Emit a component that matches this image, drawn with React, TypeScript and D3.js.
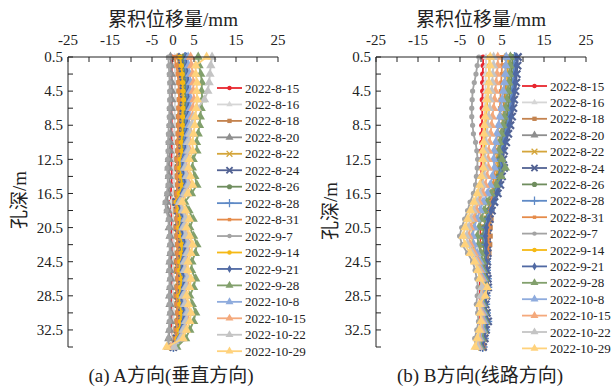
import React from 'react';
import * as d3 from 'd3';

const depths = [0.5,1.5,2.5,3.5,4.5,5.5,6.5,7.5,8.5,9.5,10.5,11.5,12.5,13.5,14.5,15.5,16.5,17.5,18.5,19.5,20.5,21.5,22.5,23.5,24.5,25.5,26.5,27.5,28.5,29.5,30.5,31.5,32.5,33.5,34.5];
const dates = ['2022-8-15','2022-8-16','2022-8-18','2022-8-20','2022-8-22','2022-8-24','2022-8-26','2022-8-28','2022-8-31','2022-9-7','2022-9-14','2022-9-21','2022-9-28','2022-10-8','2022-10-15','2022-10-22','2022-10-29'];
const xTicks = [-25,-20,-15,-10,-5,0,5,10,15,20,25];
const xTickLabels = [-25,-15,-5,0,5,15,25];
const yTicks = [0.5,2.5,4.5,6.5,8.5,10.5,12.5,14.5,16.5,18.5,20.5,22.5,24.5,26.5,28.5,30.5,32.5,34.5];
const yTickLabels = [0.5,4.5,8.5,12.5,16.5,20.5,24.5,28.5,32.5];

// Panel (a): A direction
const a0815 = [-0.2,-0.3,-0.3,-0.4,-0.3,-0.3,-0.4,-0.3,-0.3,-0.4,-0.3,-0.3,-0.4,-0.3,-0.3,-0.4,-0.5,-0.5,-0.4,-0.3,-0.3,-0.4,-0.3,-0.3,-0.4,-0.3,-0.3,-0.4,-0.3,-0.3,-0.4,-0.3,-0.3,-0.2,-0.1];
const a0816 = [0.4,0.4,0.5,0.5,0.5,0.5,0.4,0.4,0.4,0.3,0.3,0.3,0.2,0.1,0.2,0.3,0.0,-0.4,-0.2,0.1,0.0,0.1,0.2,0.2,0.0,0.0,0.2,0.1,-0.1,0.0,0.2,0.1,-0.1,-0.3,-0.4];
const a0818 = [1.2,1.3,1.4,1.4,1.4,1.5,1.4,1.3,1.3,1.2,1.1,1.1,0.9,0.9,1.0,1.1,0.8,0.4,0.7,0.9,0.7,0.9,1.1,1.0,0.8,0.8,1.1,0.9,0.7,0.9,1.1,0.9,0.7,0.5,-0.1];
const a0820 = [-0.6,-0.5,-0.4,-0.3,-0.3,-0.3,-0.4,-0.4,-0.5,-0.6,-0.7,-0.7,-0.9,-1.0,-0.9,-0.8,-1.1,-1.5,-1.2,-0.8,-0.9,-0.7,-0.5,-0.5,-0.7,-0.7,-0.5,-0.6,-0.8,-0.7,-0.5,-0.6,-0.8,-1.0,-1.1];
const a0822 = [1.7,1.8,1.9,2.0,2.0,2.1,2.0,1.9,1.8,1.7,1.6,1.6,1.3,1.2,1.4,1.6,1.1,0.6,0.9,1.3,1.0,1.3,1.6,1.5,1.2,1.1,1.5,1.3,1.0,1.2,1.5,1.3,1.0,0.7,-0.1];
const a0824 = [2.1,2.2,2.3,2.5,2.4,2.5,2.4,2.3,2.2,2.1,1.9,2.0,1.6,1.5,1.8,2.0,1.5,0.8,1.2,1.6,1.3,1.7,2.0,1.8,1.5,1.5,1.9,1.7,1.3,1.5,1.9,1.7,1.3,0.9,0.1];
const a0826 = [2.5,2.6,2.8,2.9,2.9,3.0,2.8,2.7,2.6,2.5,2.2,2.3,1.9,1.8,2.0,2.3,1.7,0.9,1.4,1.9,1.5,1.9,2.3,2.1,1.7,1.7,2.1,1.9,1.5,1.8,2.1,1.9,1.5,1.0,-0.2];
const a0828 = [2.9,3.0,3.2,3.4,3.3,3.5,3.3,3.2,3.1,2.9,2.7,2.7,2.2,2.1,2.5,2.7,2.0,1.1,1.7,2.2,1.8,2.3,2.7,2.5,2.1,2.0,2.6,2.3,1.8,2.1,2.6,2.3,1.8,1.3,0.1];
const a0831 = [0.3,0.8,1.1,1.3,1.4,1.4,1.3,1.3,1.3,1.2,1.1,1.1,1.0,0.9,1.0,1.1,0.9,0.6,0.8,1.0,0.8,1.0,1.1,1.1,0.9,0.9,1.1,1.0,0.8,0.9,1.1,1.0,0.8,0.6,0.2];
const a0907 = [-1.1,-1.0,-0.9,-0.8,-0.8,-0.8,-0.9,-0.9,-1.0,-1.1,-1.2,-1.2,-1.3,-1.4,-1.3,-1.2,-1.5,-1.9,-1.6,-1.1,-1.0,-0.9,-0.8,-0.8,-1.0,-1.0,-0.8,-0.9,-1.0,-0.9,-0.8,-0.9,-1.0,-1.1,-1.2];
const a0914 = [1.7,2.0,2.2,2.3,2.4,2.5,2.4,2.3,2.3,2.2,2.0,2.1,1.7,1.6,1.9,2.1,1.5,0.8,1.3,1.7,1.4,1.8,2.1,2.0,1.6,1.5,2.0,1.8,1.4,1.6,2.0,1.8,1.4,1.0,0.0];
const a0921 = [3.2,3.3,3.6,3.7,3.7,3.8,3.6,3.5,3.4,3.2,3.0,3.0,2.5,2.4,2.7,3.0,2.2,1.3,1.9,2.5,2.0,2.5,3.0,2.8,2.3,2.2,2.8,2.5,2.0,2.4,2.8,2.5,2.0,1.4,0.1];
const a0928 = [6.0,6.2,6.6,6.9,6.8,7.0,6.7,6.5,6.3,6.0,5.6,5.7,4.8,4.6,5.2,5.7,4.4,2.8,3.8,4.8,4.0,4.9,5.7,5.3,4.5,4.4,5.4,4.9,4.0,4.6,5.4,4.9,4.0,3.0,0.9];
const a1008 = [3.6,3.7,4.0,4.2,4.1,4.3,4.1,3.9,3.8,3.6,3.3,3.4,2.8,2.7,3.1,3.4,2.6,1.5,2.2,2.8,2.3,2.9,3.4,3.2,2.6,2.6,3.2,2.9,2.3,2.7,3.2,2.9,2.3,1.6,0.3];
const a1015 = [4.2,4.4,4.7,4.9,4.8,5.0,4.7,4.6,4.4,4.2,3.9,4.0,3.3,3.2,3.6,4.0,3.0,1.8,2.6,3.3,2.7,3.4,4.0,3.7,3.1,3.0,3.8,3.4,2.7,3.2,3.8,3.4,2.7,1.9,-0.5];
const a1022 = [9.3,9.0,8.8,8.6,8.3,7.5,5.8,5.0,4.4,4.0,3.6,3.7,3.1,2.9,3.3,3.7,2.8,1.7,2.4,3.1,2.5,3.1,3.7,3.4,2.8,2.8,3.5,3.1,2.5,2.9,3.5,3.1,2.5,1.8,0.3];
const a1029 = [8.0,5.4,5.4,5.7,5.6,5.8,5.5,5.3,5.2,4.9,4.6,4.7,3.9,3.7,4.2,4.7,3.5,2.2,3.0,3.9,3.2,4.0,4.7,4.3,3.6,3.5,4.3,4.0,3.2,3.7,4.3,4.0,3.2,2.4,-1.5];

// Panel (b): B direction
const b0815 = [0.5,0.5,0.4,0.4,0.4,0.3,0.3,0.3,0.2,0.2,0.2,0.1,0.1,0.1,0.0,0.0,-0.1,-0.1,-0.2,-0.2,-0.2,-0.2,-0.2,-0.2,-0.3,-0.3,-0.3,-0.2,-0.3,-0.3,-0.3,-0.2,-0.3,-0.3,-0.2];
const b0816 = [1.2,1.2,1.1,1.1,1.1,1.0,0.9,0.9,0.8,0.7,0.7,0.6,0.6,0.6,0.5,0.4,0.2,0.0,-0.2,-0.4,-0.5,-0.6,-0.5,-0.3,-0.1,0.0,0.1,0.2,0.1,0.0,0.1,0.2,0.0,-0.1,-0.1];
const b0818 = [6.0,5.9,5.8,5.8,5.7,5.5,5.4,5.3,5.0,4.7,4.3,4.0,3.8,4.0,3.7,3.5,3.3,2.8,2.6,2.4,2.2,2.2,2.1,1.9,1.5,1.3,1.3,1.3,1.0,1.0,1.1,1.3,1.0,0.9,0.7];
const b0820 = [7.0,6.9,6.8,6.6,6.5,6.2,6.0,5.8,5.5,5.1,4.7,4.2,4.1,4.3,3.9,3.5,3.0,2.2,1.8,1.3,0.9,0.6,0.7,1.0,1.0,1.0,1.2,1.3,1.0,0.8,1.1,1.3,0.9,0.6,0.3];
const b0822 = [6.4,6.5,6.2,6.3,5.9,5.9,5.5,5.5,5.0,4.9,4.3,4.1,3.7,4.1,3.5,3.4,2.8,2.3,1.7,1.4,0.9,0.8,0.7,1.1,0.9,1.1,1.0,1.3,0.8,0.9,0.9,1.3,0.8,0.7,0.2];
const b0824 = [8.8,8.7,8.5,8.4,8.2,7.9,7.7,7.4,7.0,6.5,6.0,5.5,5.3,5.5,5.0,4.6,4.0,3.2,2.6,2.1,1.7,1.4,1.5,1.6,1.5,1.4,1.6,1.7,1.3,1.1,1.4,1.7,1.2,0.9,0.5];
const b0826 = [7.5,7.4,7.3,7.1,6.9,6.7,6.4,6.2,5.8,5.4,4.9,4.5,4.3,4.6,4.1,3.6,3.1,2.3,1.7,1.2,0.7,0.4,0.6,0.8,1.0,1.0,1.2,1.4,1.0,0.9,1.1,1.4,0.9,0.6,0.3];
const b0828 = [8.0,7.9,7.8,7.6,7.4,7.1,6.9,6.6,6.3,5.8,5.3,4.9,4.7,4.9,4.4,4.0,3.5,2.6,2.1,1.5,1.1,0.8,0.9,1.1,1.2,1.2,1.4,1.5,1.1,1.0,1.2,1.5,1.0,0.7,0.4];
const b0831 = [5.0,5.0,4.9,4.8,4.7,4.6,4.5,4.4,4.2,3.9,3.6,3.3,3.2,3.4,3.1,2.9,2.7,2.4,2.2,2.0,1.9,1.8,1.8,1.6,1.3,1.1,1.1,1.1,0.9,0.8,0.9,1.1,0.9,0.8,0.6];
const b0907 = [-0.5,-0.9,-1.2,-1.6,-2.0,-2.1,-2.2,-2.2,-2.0,-1.8,-1.3,-1.0,-0.8,-0.9,-1.1,-1.3,-1.8,-2.6,-3.2,-3.9,-4.6,-5.1,-4.5,-3.2,-2.0,-1.4,-1.0,-0.7,-0.9,-1.1,-0.8,-0.6,-1.0,-1.5,-1.3];
const b0914 = [2.0,2.0,1.9,1.8,1.7,1.5,1.4,1.2,1.1,1.0,0.9,0.7,0.7,0.8,0.5,0.2,-0.1,-0.7,-1.1,-1.5,-1.9,-2.2,-1.9,-1.3,-0.7,-0.3,0.0,0.1,0.0,-0.1,0.0,0.1,-0.1,-0.4,-0.5];
const b0921 = [8.5,8.4,8.2,8.1,7.9,7.6,7.4,7.1,6.7,6.2,5.7,5.2,5.0,5.3,4.8,4.3,3.8,2.9,2.4,1.8,1.3,1.1,1.2,1.3,1.3,1.3,1.5,1.6,1.2,1.1,1.3,1.6,1.1,0.8,0.4];
const b0928 = [7.0,6.9,6.8,6.6,6.4,6.1,5.8,5.5,5.2,4.8,4.4,4.3,5.0,5.8,4.8,3.6,2.4,1.4,0.7,0.1,-0.5,-0.9,-0.6,0.0,0.4,0.6,1.0,1.1,0.8,0.6,0.9,1.1,0.7,0.2,-0.1];
const b1008 = [6.0,5.9,5.8,5.6,5.3,5.0,4.8,4.5,4.2,3.8,3.5,3.1,3.0,3.2,2.7,2.2,1.5,0.5,-0.2,-1.0,-1.6,-2.0,-1.7,-0.9,-0.2,0.2,0.6,0.8,0.5,0.3,0.6,0.8,0.4,-0.2,-0.4];
const b1015 = [4.0,4.0,3.8,3.6,3.4,3.2,3.0,2.7,2.5,2.3,2.0,1.8,1.7,1.8,1.4,1.0,0.4,-0.5,-1.2,-1.8,-2.5,-2.9,-2.5,-1.6,-0.7,-0.2,0.2,0.4,0.2,0.0,0.2,0.4,0.0,-0.5,-0.6];
const b1022 = [3.0,3.0,2.8,2.7,2.5,2.2,2.0,1.8,1.6,1.4,1.2,1.1,1.0,1.1,0.7,0.3,-0.3,-1.1,-1.8,-2.5,-3.1,-3.5,-3.1,-2.1,-1.1,-0.5,-0.1,0.2,0.0,-0.2,0.0,0.2,-0.2,-0.7,-0.8];
const b1029 = [2.2,2.2,2.0,1.9,1.7,1.4,1.2,1.0,0.8,0.7,0.6,0.4,0.4,0.5,0.1,-0.3,-0.9,-1.7,-2.5,-3.2,-3.8,-4.3,-3.8,-2.6,-1.5,-0.8,-0.3,1.5,1.0,-0.4,-0.2,0.0,-0.4,-0.9,-1.4];

const seriesA = [a0815,a0816,a0818,a0820,a0822,a0824,a0826,a0828,a0831,a0907,a0914,a0921,a0928,a1008,a1015,a1022,a1029];
const seriesB = [b0815,b0816,b0818,b0820,b0822,b0824,b0826,b0828,b0831,b0907,b0914,b0921,b0928,b1008,b1015,b1022,b1029];

const colors = ['#E8262E','#D6D6D6','#C4834F','#8E8E8E','#D4A53A','#526293','#6F8D5E','#5F8AC6','#E58B4A','#A3A3A3','#F5B915','#5069A3','#82A06C','#8EABDD','#F4A97C','#C4C4C4','#FFD27C'];
const markerTypes = ['circle','triangleS','square','triangle','times','asterisk','circleL','plus','squareS','circle','circle','diamond','triangle','triangle','triangle','triangle','triangle'];

const SERIF = '"Times New Roman","Liberation Serif",serif';
const CJK = '"Times New Roman","Liberation Serif","Noto Sans CJK SC",serif';

const paths: Record<string, string> = {
  triangle: d3.symbol(d3.symbolTriangle, 38)() as string,
  triangleS: d3.symbol(d3.symbolTriangle, 24)() as string,
  square: d3.symbol(d3.symbolSquare, 26)() as string,
  squareS: d3.symbol(d3.symbolSquare, 16)() as string,
  diamond: d3.symbol(d3.symbolDiamond, 26)() as string,
  times: d3.symbol(d3.symbolTimes, 32)() as string,
  asterisk: d3.symbol(d3.symbolTimes, 36)() as string,
  plus: d3.symbol(d3.symbolPlus, 34)() as string,
};

function marker(type: string, color: string, x: number, y: number, key: string, scale = 1) {
  const tf = `translate(${x},${y}) scale(${scale})`;
  if (type === 'circle') return <circle key={key} cx={x} cy={y} r={2.6 * scale} fill={color} />;
  if (type === 'circleL') return <circle key={key} cx={x} cy={y} r={3.0 * scale} fill={color} />;
  if (type === 'times' || type === 'plus' || type === 'asterisk') {
    return <path key={key} d={paths[type]} transform={tf} fill="none" stroke={color} strokeWidth={type === 'asterisk' ? 2.2 : 1.5} />;
  }
  return <path key={key} d={paths[type]} transform={tf} fill={color} />;
}

type PanelProps = {
  series: number[][]; x0: number; x1: number; legX: number; legY: number; legDy: number;
  ylabX: number; ylabY: number; caption: string; capX: number;
};

function Panel(p: PanelProps) {
  const x = d3.scaleLinear().domain([-25, 25]).range([p.x0, p.x1]);
  const y = d3.scaleLinear().domain([0.5, 34.5]).range([57, 347]);
  const line = d3.line<number>().x(v => x(v)).y((_, i) => y(depths[i]));
  const mid = (p.x0 + p.x1) / 2;
  return (
    <g>
      <text x={mid} y={26} textAnchor="middle" fontFamily={CJK} fontSize={19} fill="#222">累积位移量/mm</text>
      {xTickLabels.map(v => (
        <text key={'xl' + v} x={x(v)} y={45} textAnchor="middle" fontFamily={SERIF} fontSize={15} fill="#222">{v}</text>
      ))}
      {yTickLabels.map(v => (
        <text key={'yl' + v} x={p.x0 - 5} y={y(v)} dy="0.35em" textAnchor="end" fontFamily={SERIF} fontSize={15} fill="#222">{v}</text>
      ))}
      <text transform={`translate(${p.ylabX},${p.ylabY}) rotate(-90)`} textAnchor="middle" fontFamily={CJK} fontSize={19} fill="#222">孔深/m</text>
      <text x={p.capX} y={382} textAnchor="middle" fontFamily={CJK} fontSize={19} fill="#222">{p.caption}</text>
      {p.series.map((s, si) => (
        <g key={'s' + si}>
          <path d={line(s) as string} fill="none" stroke={colors[si]} strokeWidth={1.8} />
          {s.map((v, i) => marker(markerTypes[si], colors[si], x(v), y(depths[i]), `m${si}-${i}`))}
        </g>
      ))}
      <line x1={p.x0} x2={p.x1} y1={57} y2={57} stroke="#222" strokeWidth={1} />
      <line x1={p.x0} x2={p.x0} y1={57} y2={347} stroke="#222" strokeWidth={1} />
      {xTicks.map(v => (
        <line key={'xt' + v} x1={x(v)} x2={x(v)} y1={57} y2={62} stroke="#222" strokeWidth={1} />
      ))}
      {yTicks.map(v => (
        <line key={'yt' + v} x1={p.x0} x2={p.x0 + 5} y1={y(v)} y2={y(v)} stroke="#222" strokeWidth={1} />
      ))}
      {dates.map((d, i) => {
        const ly = p.legY + i * p.legDy;
        return (
          <g key={'lg' + i}>
            <line x1={p.legX} x2={p.legX + 25} y1={ly} y2={ly} stroke={colors[i]} strokeWidth={1.8} />
            {marker(markerTypes[i], colors[i], p.legX + 12.5, ly, 'lm' + i, 0.85)}
            <text x={p.legX + 28} y={ly} dy="0.35em" fontFamily={SERIF} fontSize={13} fill="#222">{d}</text>
          </g>
        );
      })}
    </g>
  );
}

export default function App() {
  return (
    <svg width={611} height={391} style={{ position: 'absolute', left: 0, top: 0, background: '#fff' }}>
      <rect x={0} y={0} width={611} height={391} fill="#fff" />
      <Panel series={seriesA} x0={68} x1={278} legX={217} legY={88} legDy={16.45} ylabX={26} ylabY={200} caption="(a) A方向(垂直方向)" capX={171} />
      <Panel series={seriesB} x0={376} x1={586} legX={522} legY={86} legDy={16.4} ylabX={337} ylabY={211} caption="(b) B方向(线路方向)" capX={480} />
    </svg>
  );
}
